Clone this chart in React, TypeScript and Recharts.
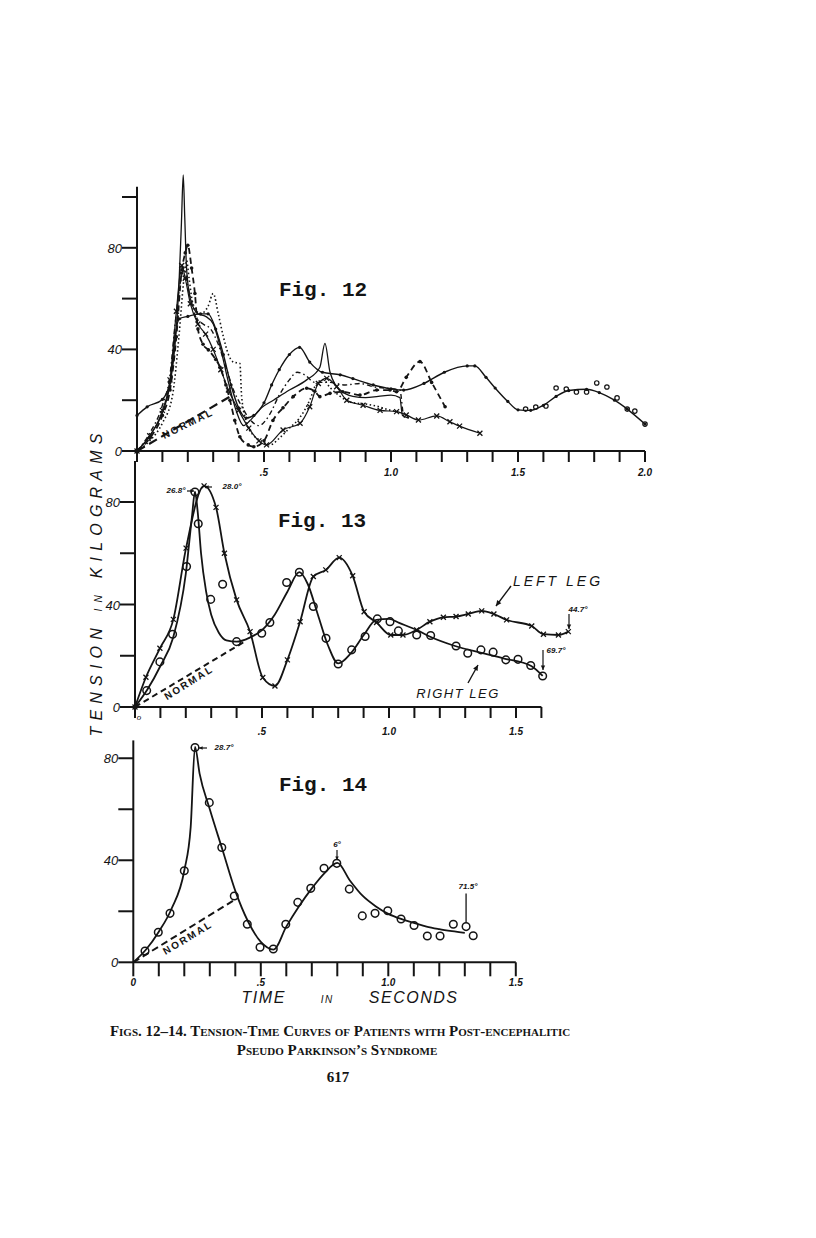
import React from 'react';
import {
  ComposedChart,
  Line,
  Scatter,
  XAxis,
  YAxis,
  ReferenceLine,
} from 'recharts';

type Pt = { x: number; y: number };
const pts = (rows: number[][]): Pt[] => rows.map(([x, y]) => ({ x, y }));

// ---------- Fig. 12 (six patients) ----------
const FIG12_SOLID_DOTS = pts([
  [0, 14], [0.04, 17.4], [0.1, 20.3], [0.13, 27], [0.15, 45], [0.165, 52], [0.2, 53], [0.25, 54],
  [0.28, 54], [0.31, 48], [0.34, 38], [0.37, 26], [0.4, 17], [0.43, 13], [0.46, 14], [0.5, 19],
  [0.53, 26], [0.56, 32], [0.6, 38], [0.64, 40.8], [0.68, 35], [0.73, 31], [0.8, 30], [0.85, 28.5],
  [0.93, 26], [1.0, 24.5], [1.05, 24], [1.13, 26.6], [1.21, 31], [1.3, 33.5], [1.33, 33.5],
  [1.374, 29], [1.41, 24.8], [1.46, 19.5], [1.5, 16.2], [1.55, 16], [1.6, 18], [1.65, 21.5],
  [1.7, 23.8], [1.77, 24.3], [1.82, 23], [1.88, 20], [1.93, 16.5], [2.0, 10.6],
]);
const FIG12_SOLID_DOTS_RINGS = pts([
  [1.53, 16.5], [1.57, 17.3], [1.61, 17.7], [1.65, 24.8], [1.69, 24.4], [1.73, 23.2], [1.77, 23.2],
  [1.81, 26.8], [1.85, 25.2], [1.89, 20.9], [1.93, 16.5], [1.96, 15.7], [2.0, 10.6],
]);
const FIG12_SPIKE = pts([
  [0, 0], [0.05, 6], [0.1, 15], [0.13, 26], [0.15, 42], [0.165, 65], [0.175, 90], [0.182, 108.7],
  [0.188, 92], [0.195, 72], [0.21, 60], [0.24, 54], [0.27, 53], [0.3, 50], [0.33, 40], [0.36, 27],
  [0.39, 16], [0.42, 10], [0.445, 12], [0.49, 17], [0.537, 20], [0.6, 24], [0.668, 28], [0.72, 33],
  [0.74, 42.4], [0.76, 31], [0.8, 24], [0.85, 21.5], [0.9, 21], [0.95, 21.5], [1.0, 22],
  [1.035, 21], [1.045, 14], [1.07, 13],
]);
const FIG12_DASHED = pts([
  [0, 0], [0.05, 5], [0.1, 14], [0.13, 24], [0.155, 45], [0.175, 70], [0.19, 78], [0.2, 81],
  [0.215, 72], [0.228, 62], [0.24, 48], [0.26, 42], [0.281, 39.8], [0.31, 36], [0.327, 33],
  [0.35, 26], [0.366, 20], [0.385, 12], [0.405, 5.6], [0.438, 2.4], [0.46, 1.7], [0.5, 4],
  [0.535, 12], [0.575, 17], [0.615, 21.4], [0.668, 24.7], [0.7, 23.5], [0.72, 21.4], [0.76, 22.7],
  [0.81, 23.3], [0.878, 22], [0.944, 24], [0.996, 24], [1.022, 23.3], [1.06, 29], [1.114, 35.2],
  [1.16, 27], [1.213, 17.4],
]);
const FIG12_DOTTED = pts([
  [0, 0], [0.05, 4], [0.1, 11], [0.14, 22], [0.165, 45], [0.185, 68], [0.195, 75], [0.205, 68],
  [0.22, 58], [0.25, 54], [0.28, 57], [0.3, 62], [0.32, 54], [0.34, 45], [0.36, 38], [0.38, 35],
  [0.405, 34.5], [0.412, 21.4], [0.432, 11], [0.46, 6], [0.484, 4.3], [0.524, 2.4], [0.56, 5],
  [0.6, 9], [0.64, 13], [0.68, 20], [0.707, 26.6], [0.733, 28], [0.76, 25], [0.8, 21.5],
  [0.85, 19], [0.9, 18.5], [0.95, 17.5], [1.0, 16], [1.035, 15.5],
]);
const FIG12_CROSSES = pts([
  [0, 0], [0.05, 6], [0.1, 16], [0.13, 28], [0.155, 55], [0.176, 73], [0.19, 68], [0.21, 58],
  [0.24, 50], [0.27, 46], [0.3, 40], [0.33, 32], [0.36, 24], [0.4, 16], [0.44, 9], [0.48, 4],
  [0.51, 2.4], [0.575, 8.3], [0.642, 10.9], [0.68, 17.4], [0.714, 26.6], [0.747, 28.6],
  [0.786, 25.3], [0.826, 20], [0.89, 18], [0.957, 16], [1.022, 15.5], [1.06, 14.2], [1.108, 12.2],
  [1.18, 13.8], [1.232, 11.5], [1.27, 9.8], [1.35, 7],
]);
const FIG12_DASHDOT = pts([
  [0, 0], [0.05, 7], [0.1, 18], [0.13, 30], [0.15, 50], [0.17, 66], [0.185, 72], [0.2, 65],
  [0.23, 53], [0.26, 50], [0.29, 48], [0.32, 42], [0.35, 33], [0.38, 24], [0.41, 18], [0.44, 13],
  [0.48, 10], [0.52, 14], [0.56, 22], [0.6, 28], [0.63, 31], [0.66, 30], [0.7, 27], [0.76, 27],
  [0.82, 26], [0.878, 26.6], [0.93, 25.3], [0.983, 24.7], [1.035, 24], [1.05, 14], [1.07, 13],
]);
const FIG12_NORMAL = pts([[0, 0], [0.366, 21.4]]);

// ---------- Fig. 13 (left leg x, right leg o) ----------
const FIG13_LEFT = pts([
  [0, 0], [0.043, 11.6], [0.098, 22.9], [0.151, 34.2], [0.201, 62], [0.272, 86.3], [0.319, 77.9],
  [0.352, 60], [0.4, 41.8], [0.453, 29.4], [0.503, 11.5], [0.551, 8.2], [0.6, 18.4], [0.65, 33.3],
  [0.702, 50.9], [0.751, 53.5], [0.804, 58.3], [0.857, 51.2], [0.902, 37.2], [0.951, 33],
  [1.007, 28.1], [1.055, 28.1], [1.109, 30.1], [1.161, 33.3], [1.214, 35], [1.264, 35.3],
  [1.312, 36.3], [1.365, 37.5], [1.413, 36.3], [1.463, 34], [1.562, 31.6], [1.608, 28.4],
  [1.667, 28.1], [1.706, 29.4],
]);
const FIG13_RIGHT_CURVE = pts([
  [0, 0], [0.05, 7], [0.1, 16], [0.15, 27], [0.2, 52], [0.225, 75], [0.236, 84], [0.247, 76],
  [0.26, 60], [0.28, 45], [0.3, 36], [0.33, 29], [0.36, 26], [0.4, 25.5], [0.45, 27], [0.5, 30],
  [0.55, 36], [0.6, 45], [0.647, 52.6], [0.68, 48], [0.72, 36], [0.76, 24], [0.8, 17], [0.85, 21],
  [0.9, 28], [0.95, 34], [1.0, 34.4], [1.04, 32.8], [1.11, 30], [1.16, 27.5], [1.26, 23.8],
  [1.36, 21.2], [1.45, 19], [1.56, 16], [1.605, 12.1],
]);
const FIG13_RIGHT_OBS = pts([
  [0.046, 6.4], [0.098, 17.6], [0.148, 28.4], [0.203, 54.8], [0.236, 83.9], [0.249, 71.5],
  [0.298, 42], [0.345, 47.9], [0.4, 25.5], [0.499, 28.8], [0.531, 33], [0.597, 48.6], [0.647, 52.6],
  [0.702, 39.2], [0.752, 26.8], [0.8, 16.8], [0.853, 22.3], [0.906, 27.5], [0.954, 34.4],
  [1.004, 33.3], [1.037, 29.7], [1.109, 28.1], [1.164, 27.9], [1.264, 23.8], [1.31, 21],
  [1.362, 22.3], [1.41, 21.4], [1.46, 18.4], [1.508, 18.6], [1.558, 16.2], [1.605, 12.1],
]);
const FIG13_NORMAL = pts([[0, 0], [0.44, 26]]);

// ---------- Fig. 14 ----------
const FIG14_CURVE = pts([
  [0, 0], [0.05, 5], [0.1, 12], [0.15, 21], [0.2, 36], [0.225, 53], [0.242, 84.5], [0.26, 74],
  [0.3, 60], [0.35, 44], [0.4, 28], [0.45, 16], [0.5, 8], [0.55, 5], [0.6, 14], [0.65, 22],
  [0.7, 29], [0.75, 35], [0.8, 39], [0.85, 32], [0.9, 26], [0.95, 22], [1.0, 19], [1.05, 17],
  [1.1, 15.5], [1.15, 14], [1.2, 13], [1.25, 12.2], [1.3, 11.5],
]);
const FIG14_OBS = pts([
  [0.046, 4.4], [0.098, 11.8], [0.144, 19.2], [0.2, 35.9], [0.242, 84.2], [0.298, 62.6],
  [0.347, 45], [0.396, 26], [0.447, 14.9], [0.497, 5.9], [0.549, 5.2], [0.598, 14.9], [0.645, 23.5],
  [0.696, 29], [0.748, 36.9], [0.798, 38.8], [0.847, 28.7], [0.898, 18.2], [0.948, 19.2],
  [0.998, 20.2], [1.05, 17], [1.101, 14.4], [1.153, 10.3], [1.203, 10.3], [1.255, 14.9],
  [1.305, 14], [1.333, 10.4],
]);
const FIG14_NORMAL = pts([[0, 0], [0.396, 24.4]]);

// ---------- ticks ----------
const FIG12_XTICKS = [0, 0.1, 0.2, 0.3, 0.4, 0.5, 0.6, 0.7, 0.8, 0.9, 1.0, 1.1, 1.2, 1.3, 1.4, 1.5, 1.6, 1.7, 1.8, 1.9, 2.0];
const FIG13_XTICKS = [0, 0.1, 0.2, 0.3, 0.4, 0.5, 0.6, 0.7, 0.8, 0.9, 1.0, 1.1, 1.2, 1.3, 1.4, 1.5, 1.6];
const FIG14_XTICKS = [0, 0.1, 0.2, 0.3, 0.4, 0.5, 0.6, 0.7, 0.8, 0.9, 1.0, 1.1, 1.2, 1.3, 1.4, 1.5];
const FIG12_YTICKS = [0, 20, 40, 60, 80, 100];
const FIG13_YTICKS = [0, 20, 40, 60, 80];
const FIG14_YTICKS = [0, 20, 40, 60, 80];
const X_LABELS: Record<string, string> = { '0.5': '.5', '1.0': '1.0', '1.5': '1.5', '2.0': '2.0' };
const FIG14_X_LABELS: Record<string, string> = { '0.0': '0', '0.5': '.5', '1.0': '1.0', '1.5': '1.5' };
const Y_LABELS: Record<number, string> = { 0: '0', 40: '40', 80: '80' };

const INK = '#141414';
const HAND = '"Liberation Sans", Arial, sans-serif';

function xTick(labels: Record<string, string>, dy: number) {
  return (p: any) => {
    const key = Number(p.payload.value).toFixed(1);
    const t = labels[key];
    if (!t) return <g />;
    return (
      <text x={p.x} y={p.y} dy={dy} textAnchor="middle" fontSize={10} fontStyle="italic"
        fontWeight={700} fontFamily={HAND} fill={INK}>{t}</text>
    );
  };
}

function yTick(p: any) {
  const t = Y_LABELS[p.payload.value];
  if (t === undefined) return <g />;
  return (
    <text x={p.x + 2} y={p.y} dy={5} textAnchor="end" fontSize={13} fontStyle="italic"
      fontFamily={HAND} fill={INK}>{t}</text>
  );
}

const smallDot = (r: number) => (p: any) =>
  <circle key={`d${p.index}`} cx={p.cx} cy={p.cy} r={r} fill={INK} stroke="none" />;

const crossDot = (p: any) => (
  <path key={`c${p.index}`} d={`M${p.cx - 2.5},${p.cy - 2.5}L${p.cx + 2.5},${p.cy + 2.5}M${p.cx + 2.5},${p.cy - 2.5}L${p.cx - 2.5},${p.cy + 2.5}`}
    stroke={INK} strokeWidth={1.3} />
);

const ring = (r: number, w: number) => (p: any) =>
  <circle cx={p.cx} cy={p.cy} r={r} fill="#fff" fillOpacity={0} stroke={INK} strokeWidth={w} />;

function Txt({ x, y, size = 12, rotate = 0, style, children }: any) {
  return (
    <div
      style={{
        position: 'absolute', left: x, top: y, transform: `translate(-50%, -50%) rotate(${rotate}deg)`,
        fontSize: size, lineHeight: 1, whiteSpace: 'nowrap', color: INK, fontFamily: HAND, ...style,
      }}
    >
      {children}
    </div>
  );
}

// hand-drawn pointer arrow of the plate annotations (page pixels)
function Arrow({ x1, y1, x2, y2, w = 1.4, head = 5 }: any) {
  const left = Math.min(x1, x2) - 8;
  const top = Math.min(y1, y2) - 8;
  const a = Math.atan2(y2 - y1, x2 - x1);
  const hx1 = x2 - head * Math.cos(a - 0.45);
  const hy1 = y2 - head * Math.sin(a - 0.45);
  const hx2 = x2 - head * Math.cos(a + 0.45);
  const hy2 = y2 - head * Math.sin(a + 0.45);
  return (
    <svg style={{ position: 'absolute', left, top, overflow: 'visible' }}
      width={Math.abs(x2 - x1) + 16} height={Math.abs(y2 - y1) + 16}>
      <g transform={`translate(${-left},${-top})`}>
        <line x1={x1} y1={y1} x2={x2} y2={y2} stroke={INK} strokeWidth={w} />
        <polygon points={`${x2},${y2} ${hx1},${hy1} ${hx2},${hy2}`} fill={INK} />
      </g>
    </svg>
  );
}

const axisStroke = { stroke: INK, strokeWidth: 2 };

function Fig12() {
  return (
    <div style={{ position: 'absolute', left: 0, top: 150 }}>
      <ComposedChart width={700} height={346} margin={{ top: 21.6, right: 55, bottom: 5, left: 97 }}>
        <XAxis dataKey="x" type="number" domain={[0, 2.0]} ticks={FIG12_XTICKS} interval={0}
          axisLine={axisStroke} tickLine={axisStroke} tickSize={11} height={40} tick={xTick(X_LABELS, 12)} />
        <YAxis dataKey="y" type="number" domain={[0, 110]} ticks={FIG12_YTICKS} interval={0} width={40}
          axisLine={false} tickLine={axisStroke} tickSize={15} tick={yTick} />
        <ReferenceLine segment={[{ x: 0, y: 0 }, { x: 0, y: 104 }]} stroke={INK} strokeWidth={2} />
        <Line data={FIG12_NORMAL} dataKey="y" stroke={INK} strokeWidth={2.2} strokeDasharray="9 5"
          dot={false} isAnimationActive={false} />
        <Line data={FIG12_SOLID_DOTS} dataKey="y" type="monotone" stroke={INK} strokeWidth={1.4}
          dot={smallDot(1.6)} isAnimationActive={false} />
        <Scatter data={FIG12_SOLID_DOTS_RINGS} dataKey="y" shape={ring(2.2, 1.2)} isAnimationActive={false} />
        <Line data={FIG12_SPIKE} dataKey="y" type="monotone" stroke={INK} strokeWidth={1.3}
          dot={false} isAnimationActive={false} />
        <Line data={FIG12_DASHED} dataKey="y" type="monotone" stroke={INK} strokeWidth={1.8}
          strokeDasharray="6 4" dot={smallDot(1.8)} isAnimationActive={false} />
        <Line data={FIG12_DOTTED} dataKey="y" type="monotone" stroke={INK} strokeWidth={1.6}
          strokeDasharray="1.5 2.5" dot={false} isAnimationActive={false} />
        <Line data={FIG12_CROSSES} dataKey="y" type="monotone" stroke={INK} strokeWidth={1.2}
          dot={crossDot} isAnimationActive={false} />
        <Line data={FIG12_DASHDOT} dataKey="y" type="monotone" stroke={INK} strokeWidth={1.4}
          strokeDasharray="5 3 1.5 3" dot={false} isAnimationActive={false} />
      </ComposedChart>
    </div>
  );
}

function Fig13() {
  return (
    <div style={{ position: 'absolute', left: 0, top: 440 }}>
      <ComposedChart width={700} height={312} margin={{ top: 21, right: 120.5, bottom: 5, left: 95 }}>
        <XAxis dataKey="x" type="number" domain={[0, 1.75]} ticks={FIG13_XTICKS} interval={0}
          axisLine={false} tickLine={axisStroke} tickSize={11} height={40} tick={xTick(X_LABELS, 15)} />
        <YAxis dataKey="y" type="number" domain={[0, 96]} ticks={FIG13_YTICKS} interval={0} width={40}
          axisLine={axisStroke} tickLine={axisStroke} tickSize={15} tick={yTick} />
        <ReferenceLine segment={[{ x: 0, y: 0 }, { x: 1.6, y: 0 }]} stroke={INK} strokeWidth={2} />
        <Line data={FIG13_NORMAL} dataKey="y" stroke={INK} strokeWidth={2} strokeDasharray="6 4"
          dot={false} isAnimationActive={false} />
        <Line data={FIG13_LEFT} dataKey="y" type="monotone" stroke={INK} strokeWidth={1.8}
          dot={crossDot} isAnimationActive={false} />
        <Line data={FIG13_RIGHT_CURVE} dataKey="y" type="monotone" stroke={INK} strokeWidth={1.8}
          dot={false} isAnimationActive={false} />
        <Scatter data={FIG13_RIGHT_OBS} dataKey="y" shape={ring(3.8, 1.5)} isAnimationActive={false} />
      </ComposedChart>
    </div>
  );
}

function Fig14() {
  return (
    <div style={{ position: 'absolute', left: 0, top: 720 }}>
      <ComposedChart width={700} height={287.3} margin={{ top: 20.4, right: 184.2, bottom: 5, left: 93.3 }}>
        <XAxis dataKey="x" type="number" domain={[0, 1.5]} ticks={FIG14_XTICKS} interval={0}
          axisLine={axisStroke} tickLine={axisStroke} tickSize={14} height={40} tick={xTick(FIG14_X_LABELS, 8)} />
        <YAxis dataKey="y" type="number" domain={[0, 87]} ticks={FIG14_YTICKS} interval={0} width={40}
          axisLine={axisStroke} tickLine={axisStroke} tickSize={15} tick={yTick} />
        <ReferenceLine segment={[{ x: 1.305, y: 15.5 }, { x: 1.305, y: 27 }]} stroke={INK} strokeWidth={1.3} />
        <Line data={FIG14_NORMAL} dataKey="y" stroke={INK} strokeWidth={2} strokeDasharray="7 4"
          dot={false} isAnimationActive={false} />
        <Line data={FIG14_CURVE} dataKey="y" type="monotone" stroke={INK} strokeWidth={1.8}
          dot={false} isAnimationActive={false} />
        <Scatter data={FIG14_OBS} dataKey="y" shape={ring(3.8, 1.5)} isAnimationActive={false} />
      </ComposedChart>
    </div>
  );
}

const figTitle = { fontFamily: '"Liberation Mono", "DejaVu Sans Mono", monospace', fontWeight: 700 };
const note = { fontStyle: 'italic', fontWeight: 700, fontSize: 8 };
const caption = { fontFamily: '"Liberation Serif", serif', fontVariant: 'small-caps', fontSize: 15, fontWeight: 700 };

export default function App() {
  return (
    <div style={{ position: 'absolute', left: 0, top: 0, width: 816, height: 1238, background: '#fff' }}>
      <Fig12 />
      <Fig13 />
      <Fig14 />

      <Txt x={323} y={290} size={21} style={figTitle}>Fig. 12</Txt>
      <Txt x={322} y={521} size={21} style={figTitle}>Fig. 13</Txt>
      <Txt x={323} y={785} size={21} style={figTitle}>Fig. 14</Txt>

      <Txt x={188} y={424} size={10} rotate={-26} style={{ fontWeight: 700, letterSpacing: 2 }}>NORMAL</Txt>
      <Txt x={189} y={683} size={10} rotate={-32} style={{ fontWeight: 700, letterSpacing: 2 }}>NORMAL</Txt>
      <Txt x={188} y={938} size={10} rotate={-31} style={{ fontWeight: 700, letterSpacing: 2 }}>NORMAL</Txt>

      <Txt x={97} y={582} size={16} rotate={-90} style={{ fontStyle: 'italic', letterSpacing: 6.2 }}>
        TENSION <span style={{ fontSize: 10 }}>IN</span> KILOGRAMS
      </Txt>
      <Txt x={350} y={998} size={16} style={{ fontStyle: 'italic', letterSpacing: 1.5 }}>
        TIME{'\u2003\u2003'}<span style={{ fontSize: 10 }}>IN</span>{'\u2003\u2003'}SECONDS
      </Txt>

      <Txt x={139} y={718} size={8} style={{ fontStyle: 'italic' }}>o</Txt>

      {/* Fig. 13 notes */}
      <Txt x={176} y={491} style={note}>26.8°</Txt>
      <Arrow x1={187} y1={491} x2={194} y2={491} head={4} w={1.2} />
      <Arrow x1={212} y1={487} x2={205} y2={487} head={4} w={1.2} />
      <Txt x={232} y={487} style={note}>28.0°</Txt>
      <Txt x={558} y={581} size={14} style={{ fontStyle: 'italic', letterSpacing: 3 }}>LEFT LEG</Txt>
      <Arrow x1={511} y1={586} x2={496} y2={606} head={6} />
      <Txt x={458} y={693} size={13} style={{ fontStyle: 'italic', letterSpacing: 1.5 }}>RIGHT LEG</Txt>
      <Arrow x1={468} y1={683} x2={478} y2={665} head={6} />
      <Txt x={578} y={610} style={note}>44.7°</Txt>
      <Arrow x1={569} y1={614} x2={569} y2={629} head={5} w={1.2} />
      <Txt x={556} y={651} style={note}>69.7°</Txt>
      <Arrow x1={543} y1={650} x2={543} y2={670} head={5} w={1.2} />

      {/* Fig. 14 notes */}
      <Arrow x1={207} y1={748} x2={199} y2={748} head={4} w={1.2} />
      <Txt x={224} y={748} style={note}>28.7°</Txt>
      <Txt x={337} y={845} style={note}>6°</Txt>
      <Arrow x1={337} y1={850} x2={337} y2={860} head={4} w={1.2} />
      <Txt x={468} y={887} style={note}>71.5°</Txt>

      <Txt x={340} y={1031} style={caption}>Figs. 12–14. Tension-Time Curves of Patients with Post-encephalitic</Txt>
      <Txt x={337} y={1050} style={caption}>Pseudo Parkinson’s Syndrome</Txt>
      <Txt x={338} y={1077} size={15} style={{ fontFamily: '"Liberation Serif", serif', fontWeight: 700 }}>617</Txt>
    </div>
  );
}
